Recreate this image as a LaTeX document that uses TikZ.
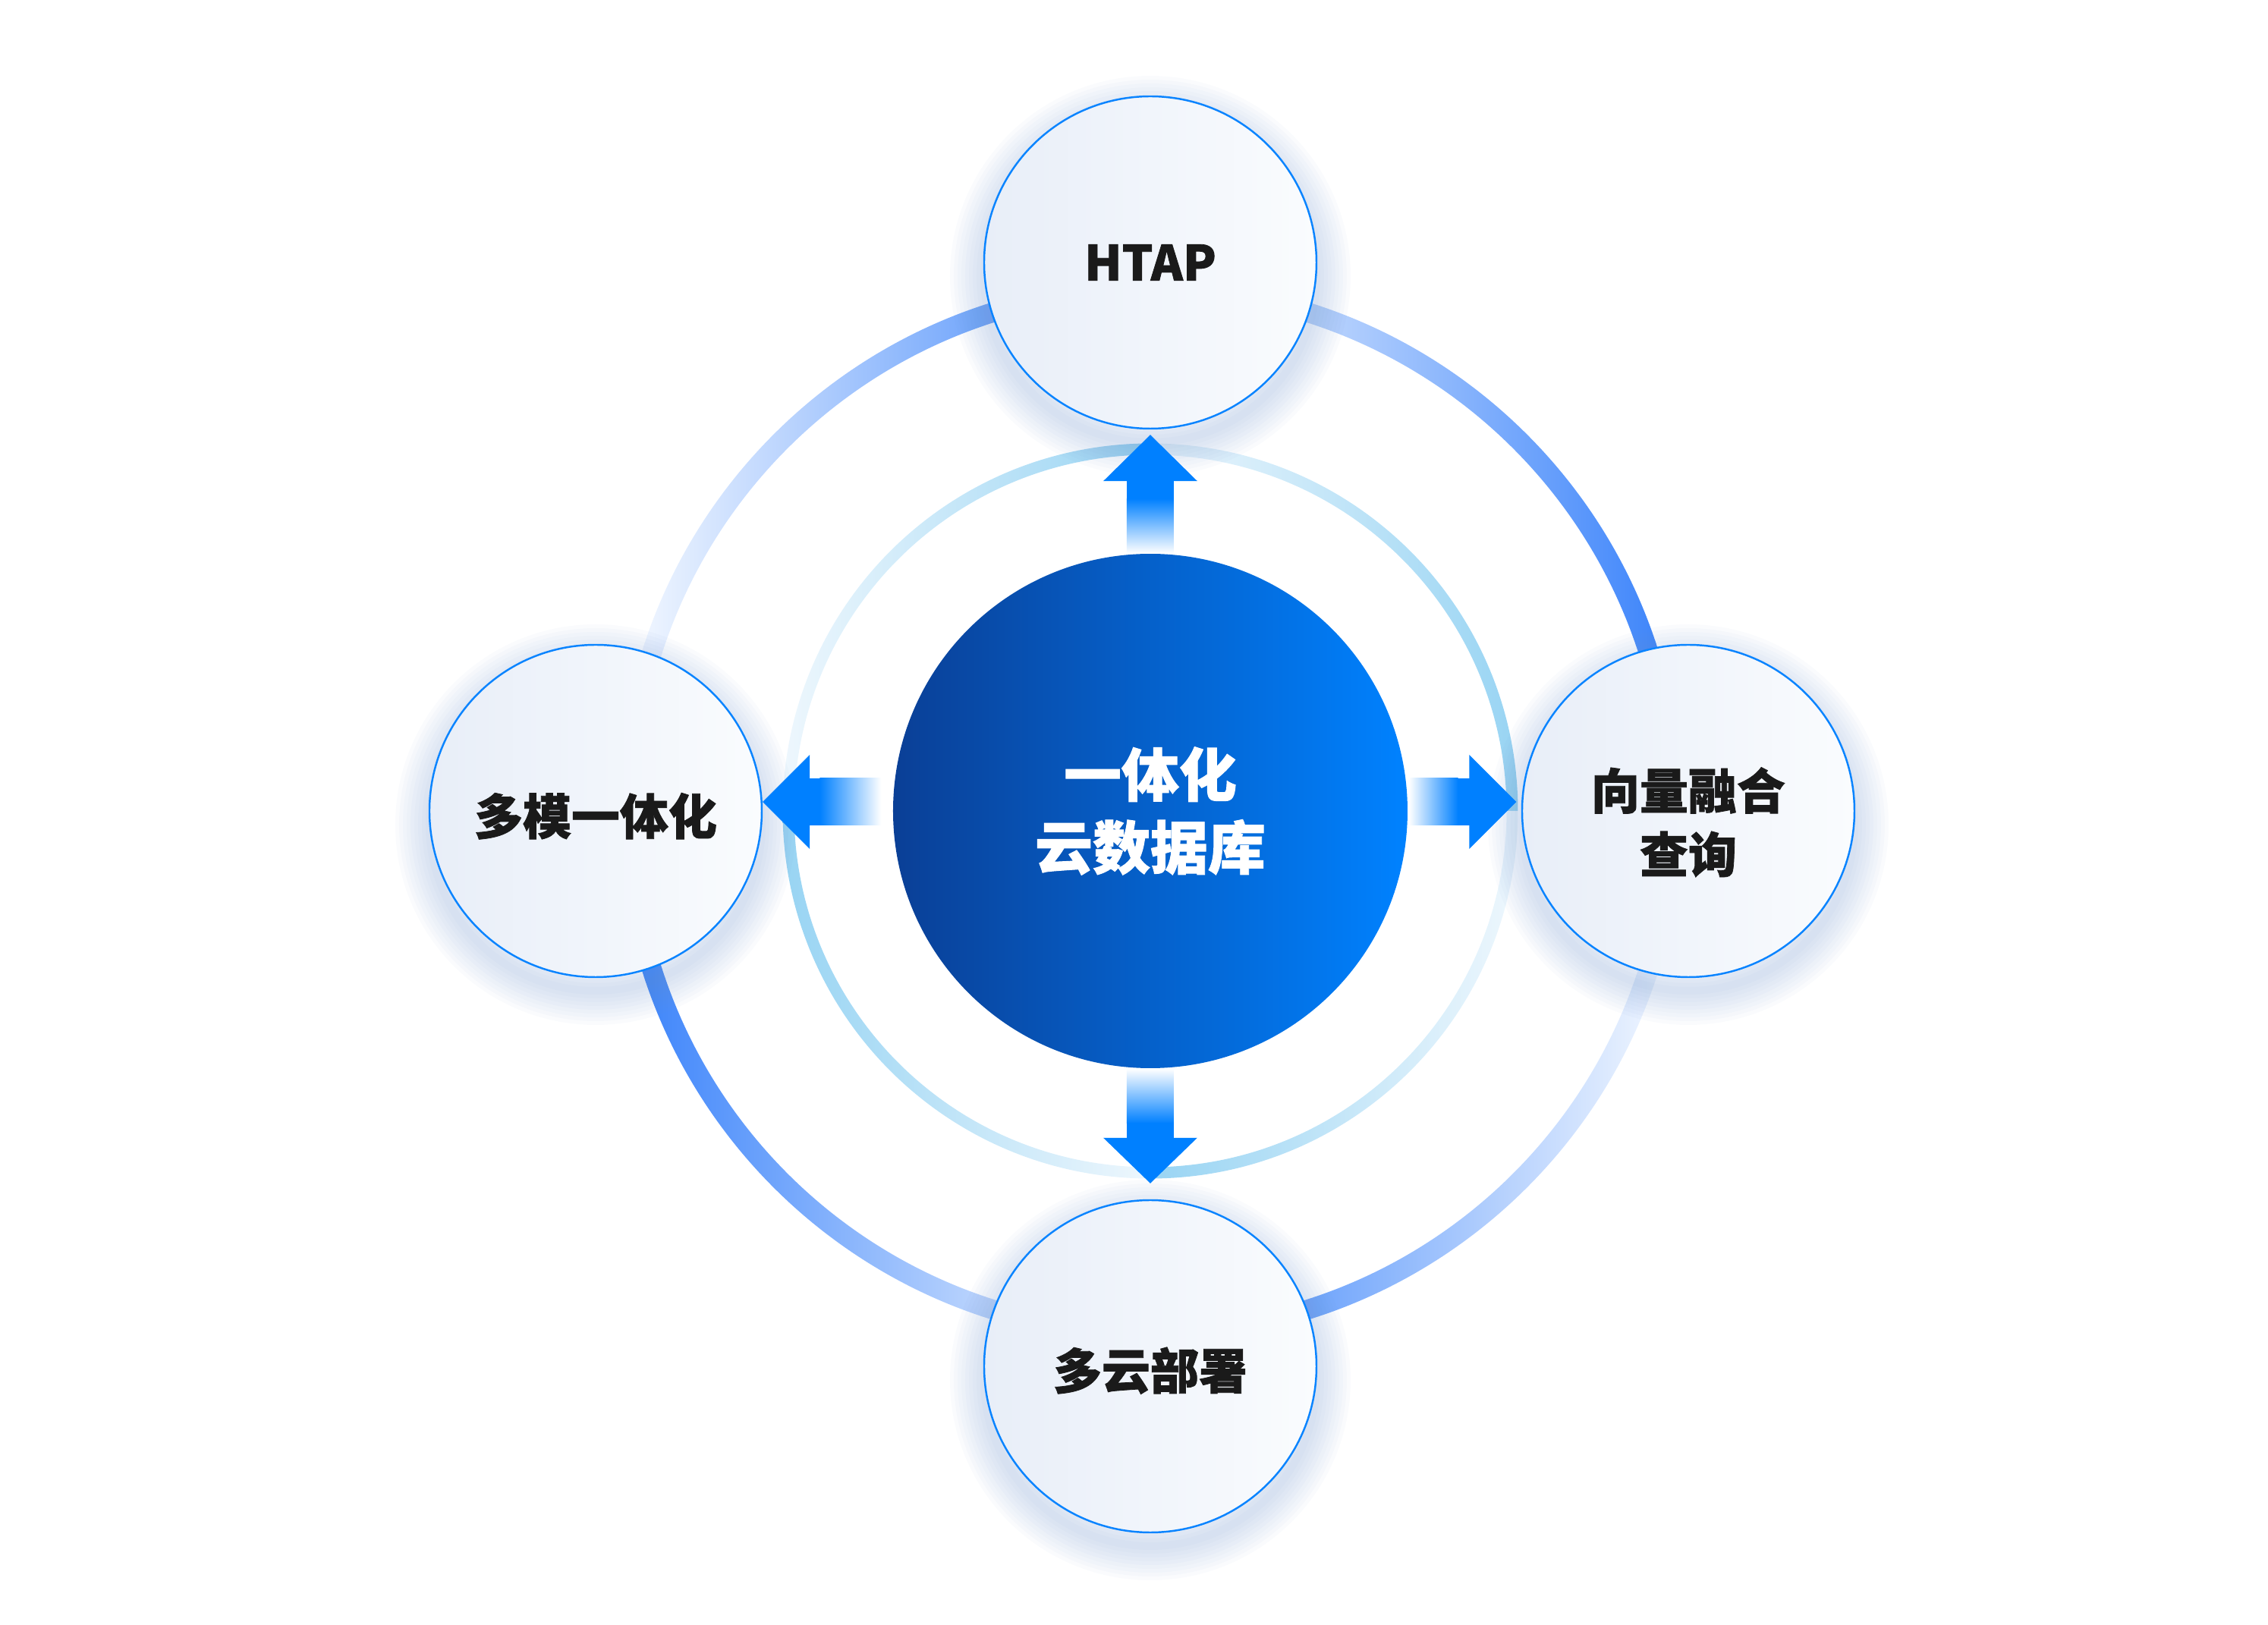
\documentclass[tikz,border=0pt]{standalone}
\usepackage{fontspec}
\setmainfont{Noto Sans CJK SC}[BoldFeatures={FakeBold=1.2}]
\usepackage{tikz}
\newcommand{\ringpart}[4]% start, end, outer r, inner r
{(#1:#3) arc[start angle=#1, end angle=#2, radius=#3] -- (#2:#4) arc[start angle=#2, end angle=#1, radius=#4] -- cycle
}
\definecolor{ringS}{HTML}{3680FA}
\definecolor{ringW}{HTML}{F8FBFF}
\definecolor{innerS}{HTML}{98D4F3}
\definecolor{innerW}{HTML}{EEF7FD}
\definecolor{arrowc}{HTML}{0080FF}
\definecolor{hubL}{HTML}{0A3F96}
\definecolor{hubR}{HTML}{0082FF}
\definecolor{itemL}{HTML}{E8EEF8}
\definecolor{itemR}{HTML}{FAFCFE}
\definecolor{itemline}{HTML}{0A84FF}
\definecolor{glowc}{HTML}{6E93CC}
\definecolor{txt}{HTML}{1A1A1A}

\begin{document}
\begin{tikzpicture}[
	gl/.style={preaction={draw=glowc, draw opacity=.035, line width=#1, transform canvas={yshift=-0.18cm}}},
	halo/.style={gl=0.9cm, gl=0.8cm, gl=0.7cm, gl=0.6cm, gl=0.5cm, gl=0.4cm, gl=0.3cm, gl=0.2cm, gl=0.1cm},
	item/.style={circle, minimum size=4.38cm, inner sep=0pt, halo, draw=itemline, line width=0.7pt,
		left color=itemL, right color=itemR, text=txt, align=center,
		font=\bfseries\fontsize{18.2}{23.9}\selectfont},
	hub/.style={circle, minimum size=6.78cm, inner sep=0pt, left color=hubL, right color=hubR,
		text=white, align=center, font=\bfseries\fontsize{21.6}{27.3}\selectfont}]
	\useasboundingbox (-15.16,-10.73) rectangle (14.73,10.69);
	% outer ring
	\shade[left color=ringW, right color=ringS] \ringpart{0}{90}{7.02}{6.76};
	\shade[left color=ringW, right color=ringS] \ringpart{90}{180}{7.02}{6.76};
	\shade[left color=ringS, right color=ringW] \ringpart{180}{270}{7.02}{6.76};
	\shade[left color=ringS, right color=ringW] \ringpart{270}{360}{7.02}{6.76};
	% inner ring
	\shade[left color=innerW, right color=innerS] \ringpart{0}{90}{4.845}{4.695};
	\shade[left color=innerW, right color=innerS] \ringpart{90}{180}{4.845}{4.695};
	\shade[left color=innerS, right color=innerW] \ringpart{180}{270}{4.845}{4.695};
	\shade[left color=innerS, right color=innerW] \ringpart{270}{360}{4.845}{4.695};

	\node[hub] (hub) at (0,0) {一体化\\云数据库};
	\node[item] (htap) at (0,7.23) {HTAP};
	\node[item, text height=19.5pt] (multi) at (-7.31,0) {多模一体化};
	\node[item, text height=48pt] (vector) at (7.09,0) {向量融合\\查询};
	\node[item, text height=19pt] (cloud) at (0,-7.32) {多云部署};

	% up
	\shade[top color=arrowc, bottom color=white] ([xshift=-0.31cm]hub.north) rectangle ++(0.62,0.72);
	\fill[arrowc] ([xshift=-0.31cm,yshift=0.71cm]hub.north) rectangle ++(0.62,0.27);
	\fill[arrowc] ([yshift=-0.07cm]htap.south) -- ++(-0.62,-0.61) -- ++(1.24,0) -- cycle;
	% down
	\shade[top color=white, bottom color=arrowc] ([xshift=-0.31cm]hub.south) rectangle ++(0.62,-0.72);
	\fill[arrowc] ([xshift=-0.31cm,yshift=-0.71cm]hub.south) rectangle ++(0.62,-0.23);
	\fill[arrowc] ([yshift=0.21cm]cloud.north) -- ++(-0.62,0.6) -- ++(1.24,0) -- cycle;
	% left
	\shade[left color=arrowc, right color=white] ([xshift=-0.96cm,yshift=-0.19cm]hub.west) rectangle ++(0.81,0.62);
	\fill[arrowc] ([xshift=-1.12cm,yshift=-0.19cm]hub.west) rectangle ++(0.17,0.62);
	\fill[arrowc] ([yshift=0.12cm]multi.east) -- ++(0.62,0.62) -- ++(0,-1.24) -- cycle;
	% right
	\shade[left color=white, right color=arrowc] ([xshift=0.01cm,yshift=-0.19cm]hub.east) rectangle ++(0.65,0.62);
	\fill[arrowc] ([xshift=0.65cm,yshift=-0.19cm]hub.east) rectangle ++(0.18,0.62);
	\fill[arrowc] ([xshift=-0.065cm,yshift=0.12cm]vector.west) -- ++(-0.62,0.62) -- ++(0,-1.24) -- cycle;
\end{tikzpicture}
\end{document}
